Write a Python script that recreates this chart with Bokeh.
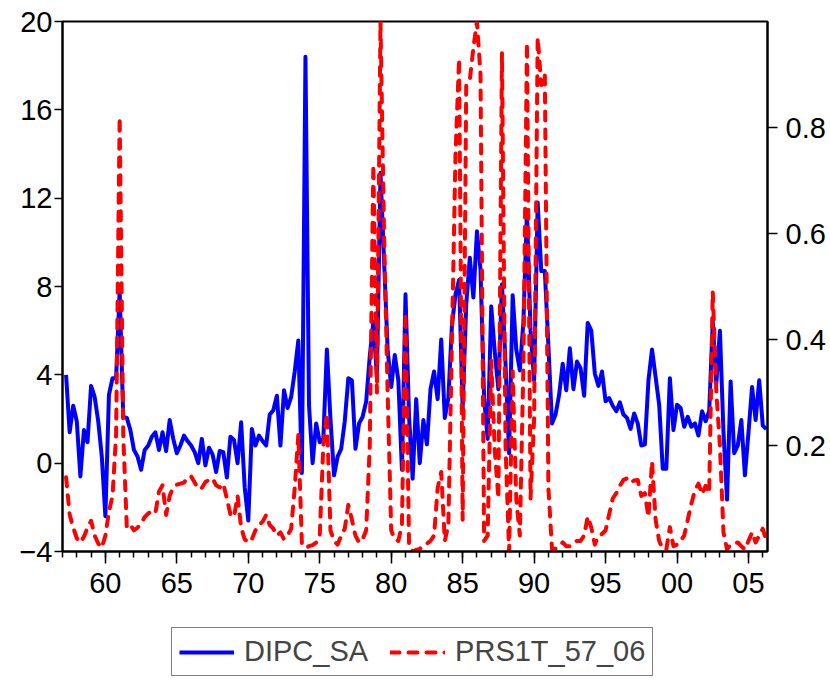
from bokeh.plotting import figure
from bokeh.models import Range1d, LinearAxis, FixedTicker, Legend, LegendItem
from bokeh.layouts import column
from bokeh.embed import file_html
from bokeh.resources import INLINE
import numpy as np

# Quarterly observations, first one 1957Q2
start_year = 1957.25
dipc_sa = [
    4.0, 1.4, 2.6, 1.9, -0.6, 1.5, 0.95, 3.5, 3.0, 1.9,
    0.3, -2.4, 3.1, 3.85, 3.85, 7.8, 2.1, 2.05, 1.5, 0.6,
    0.3, -0.3, 0.6, 0.8, 1.2, 1.4, 0.6, 1.4, 0.55, 1.95,
    1.1, 0.45, 0.8, 1.25, 1.0, 0.8, 0.5, 0.0, 1.1, -0.1,
    0.7, 0.4, -0.4, 0.55, 0.5, -0.65, 1.2, 1.05, 0.0, 1.85,
    -1.1, -2.6, 1.55, 0.8, 1.25, 1.0, 0.8, 2.2, 2.4, 3.05,
    0.8, 3.3, 2.5, 3.0, 4.15, 5.55, -0.45, 18.4, 2.6, 0.0,
    1.8, 0.95, 1.1, 5.15, 2.0, -0.55, 0.3, 0.65, 1.9, 3.85,
    3.75, 0.65, 1.8, 2.1, 2.8, 4.85, 6.4, 3.9, 13.15, 9.2,
    5.15, 3.45, 4.9, 3.75, -0.3, 7.65, 2.1, -0.7, 2.9, 0.0,
    1.95, 0.85, 3.35, 4.15, 2.9, 5.6, 2.05, 2.95, 6.25, 7.65,
    8.3, 2.5, 7.2, 9.3, 7.5, 10.5, 8.75, 2.95, 1.1, 7.1,
    5.0, 3.35, 8.1, 4.5, 0.45, 7.6, 5.15, 4.2, 6.4, 11.4,
    6.0, 3.75, 11.8, 8.7, 8.7, 5.3, 1.8, 2.2, 3.1, 4.5,
    3.3, 5.2, 3.35, 4.6, 4.3, 3.05, 6.35, 6.0, 4.05, 3.5,
    4.15, 2.8, 2.95, 2.6, 2.35, 2.75, 2.2, 2.05, 1.55, 2.25,
    1.8, 0.8, 0.85, 3.75, 5.15, 3.9, 2.65, -0.25, -0.25, 3.85,
    1.5, 2.65, 2.5, 1.65, 2.1, 1.65, 1.8, 1.25, 2.35, 1.9,
    2.35, 6.4, 3.6, 6.0, 1.4, -1.65, 3.7, 0.45, 0.8, 1.95,
    -0.55, 1.4, 3.45, 1.95, 3.75, 1.7, 1.55,
]
prs1t_57_06 = [
    0.14, 0.07, 0.045, 0.025, 0.017, 0.028, 0.045, 0.058, 0.03, 0.015,
    0.007, 0.03, 0.075, 0.105, 0.22, 0.82, 0.22, 0.045, 0.05, 0.04,
    0.045, 0.053, 0.065, 0.072, 0.075, 0.072, 0.113, 0.125, 0.069, 0.105,
    0.121, 0.126, 0.128, 0.13, 0.14, 0.142, 0.13, 0.118, 0.12, 0.131,
    0.135, 0.138, 0.125, 0.121, 0.128, 0.1, 0.07, 0.065, 0.105, 0.045,
    0.023, 0.017, 0.023, 0.04, 0.05, 0.056, 0.069, 0.05, 0.043, 0.03,
    0.036, 0.023, 0.03, 0.043, 0.12, 0.22, 0.015, 0.007, 0.01, 0.012,
    0.017, 0.03, 0.2, 0.26, 0.04, 0.02, 0.013, 0.03, 0.043, 0.088,
    0.06, 0.03, 0.017, 0.023, 0.04, 0.2, 0.73, 0.3, 1.0, 0.6,
    0.3, 0.04, 0.023, 0.02, 0.05, 0.45, 0.01, 0.0, 0.003, 0.005,
    0.01, 0.015, 0.02, 0.03, 0.12, 0.15, 0.02, 0.05, 0.4, 0.75,
    0.93, 0.06, 0.88, 0.89, 0.95, 1.0, 0.9, 0.02, 0.03, 0.36,
    0.19, 0.1, 0.94, 0.2, 0.0, 0.34, 0.1, 0.03, 0.35, 0.96,
    0.1, 0.25, 0.97, 0.88, 0.9, 0.12, 0.005, 0.005, 0.01, 0.017,
    0.01, 0.01, 0.017, 0.02, 0.02, 0.03, 0.066, 0.045, 0.013, 0.03,
    0.033, 0.04, 0.07, 0.1, 0.11, 0.124, 0.135, 0.138, 0.13, 0.134,
    0.135, 0.105, 0.11, 0.065, 0.17, 0.06, 0.02, 0.005, 0.004, 0.046,
    0.01, 0.013, 0.02, 0.03, 0.06, 0.09, 0.115, 0.128, 0.108, 0.124,
    0.11, 0.49, 0.3, 0.2, 0.036, 0.004, 0.013, 0.015, 0.017, 0.01,
    0.004, 0.02, 0.036, 0.017, 0.03, 0.043, 0.02,
]
year_ticks = [1960, 1965, 1970, 1975, 1980, 1985, 1990, 1995, 2000, 2005]
year_labels = ["60", "65", "70", "75", "80", "85", "90", "95", "00", "05"]
minor_years = list(range(1957, 2007))
left_ticks = [-4, 0, 4, 8, 12, 16, 20]
right_ticks = [0.2, 0.4, 0.6, 0.8]
series_names = ["DIPC_SA", "PRS1T_57_06"]

t = start_year + np.arange(len(dipc_sa)) / 4.0

FONT = "Liberation Sans"
FS = "29px"
BLUE = "#0000ff"
RED = "#ff0000"
LW = 4
DASH = "9 9"

# ---------------- main chart ----------------
p = figure(width=830, height=610, output_backend="svg", toolbar_location=None,
           x_range=Range1d(1957.0, 2006.33), y_range=Range1d(-4, 20),
           min_border_left=62, min_border_right=63, min_border_top=21,
           min_border_bottom=59)
p.extra_y_ranges = {"right": Range1d(0, 1)}
p.grid.visible = False
p.outline_line_color = "black"
p.outline_line_width = 2
p.background_fill_color = "white"
p.border_fill_color = "white"

xa = p.xaxis[0]
xa.ticker = FixedTicker(ticks=year_ticks, minor_ticks=minor_years)
xa.major_label_overrides = {y: l for y, l in zip(year_ticks, year_labels)}

ya = p.yaxis[0]
ya.ticker = FixedTicker(ticks=left_ticks)

ra = LinearAxis(y_range_name="right", ticker=FixedTicker(ticks=right_ticks))
p.add_layout(ra, "right")

for ax in (xa, ya, ra):
    ax.axis_line_color = "black"
    ax.axis_line_width = 2
    ax.major_tick_line_color = "black"
    ax.major_tick_line_width = 1.5
    ax.minor_tick_line_width = 1.5
    ax.major_label_text_font = FONT
    ax.major_label_text_font_size = FS
    ax.major_label_text_color = "black"
    ax.major_tick_in = 0
    ax.minor_tick_in = 0

xa.minor_tick_line_color = "black"
xa.major_tick_out = 12
xa.minor_tick_out = 6
xa.major_label_standoff = 9

ya.minor_tick_line_color = None
ya.major_tick_out = 8
ya.major_label_standoff = 2

ra.minor_tick_line_color = None
ra.major_tick_out = 10
ra.major_label_standoff = 8

p.line(t, dipc_sa, line_color=BLUE, line_width=LW, line_join="round")
p.line(t, prs1t_57_06, y_range_name="right", line_color=RED,
       line_width=LW, line_dash=DASH, line_cap="round", line_join="round")

# ---------------- legend strip ----------------
lg = figure(width=830, height=70, output_backend="svg", toolbar_location=None,
            x_range=Range1d(0, 1), y_range=Range1d(0, 1),
            x_axis_type=None, y_axis_type=None,
            min_border_left=0, min_border_right=0, min_border_top=0,
            min_border_bottom=0)
lg.grid.visible = False
lg.outline_line_color = None
lg.background_fill_color = "white"
lg.border_fill_color = "white"
g1 = lg.line([5, 6], [5, 6], line_color=BLUE, line_width=LW)
g2 = lg.line([5, 6], [5, 6], line_color=RED, line_width=LW,
             line_dash=DASH, line_cap="round")
legend = Legend(items=[LegendItem(label=series_names[0], renderers=[g1]),
                       LegendItem(label=series_names[1], renderers=[g2])],
                orientation="horizontal", location=(109, 4),
                label_text_font=FONT, label_text_font_size=FS,
                glyph_width=55, glyph_height=24, label_standoff=10,
                spacing=22, padding=7, margin=0,
                border_line_color="black", border_line_width=1,
                background_fill_color="white", background_fill_alpha=1.0)
lg.add_layout(legend, "center")

layout = column(p, lg, spacing=0)
open("out.html", "w").write(file_html(layout, INLINE))
